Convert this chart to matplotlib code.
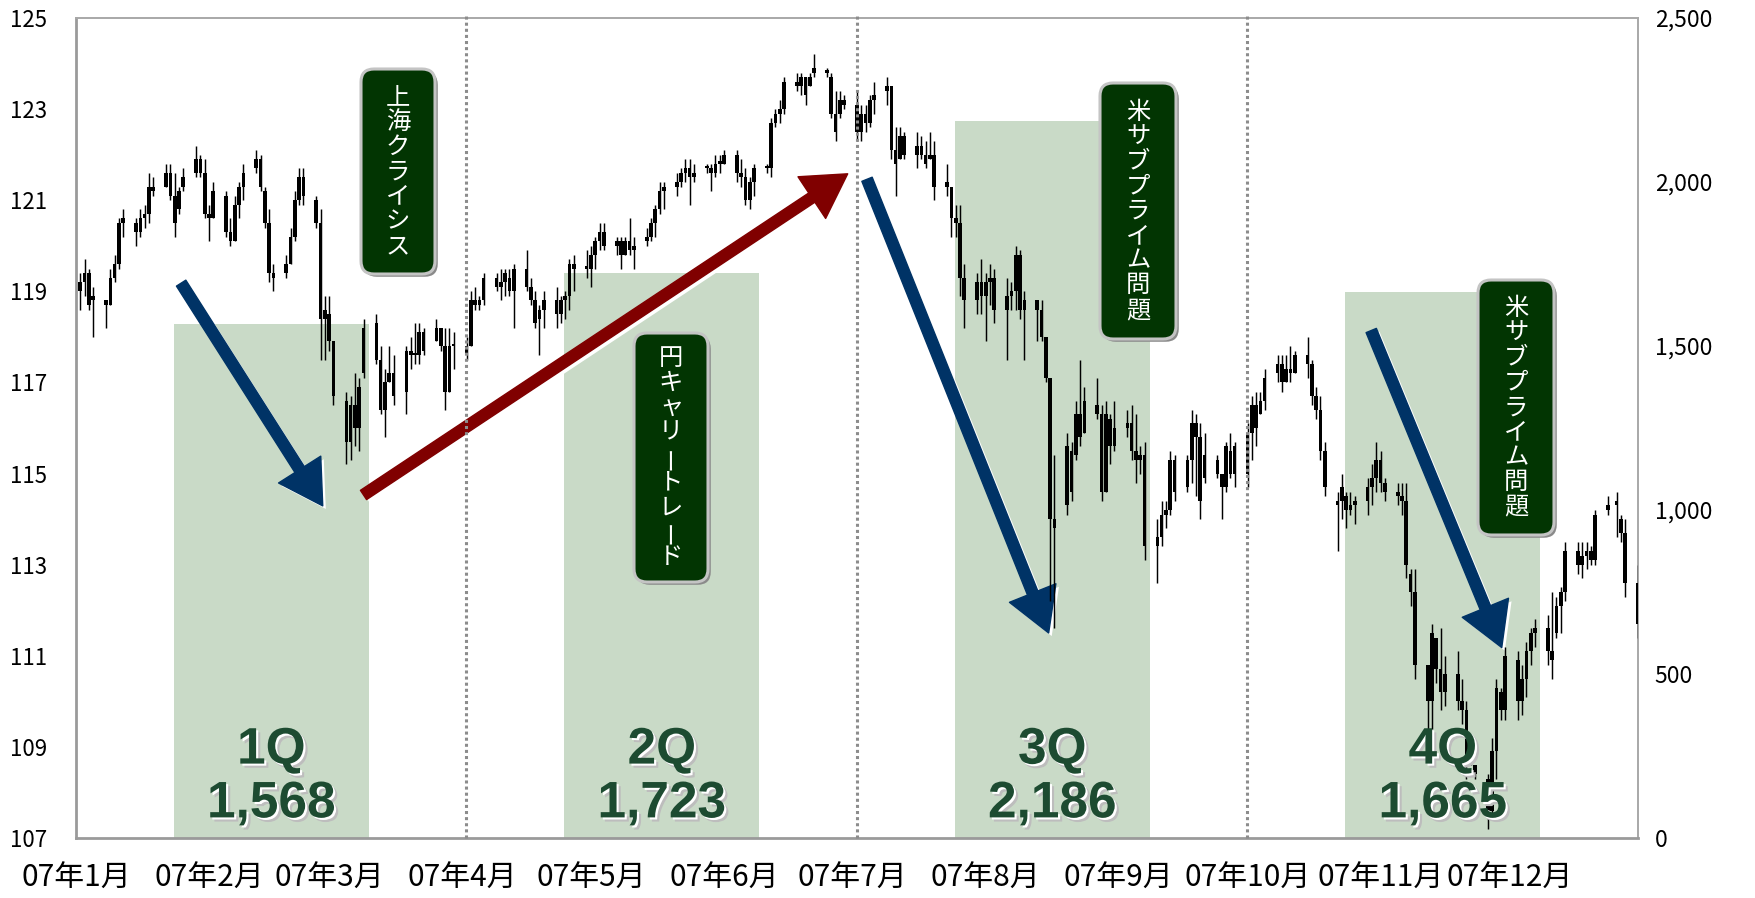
import numpy as np
import pandas as pd
import matplotlib
matplotlib.use("Agg")
import matplotlib.pyplot as plt
import matplotlib.dates as mdates
import matplotlib.transforms as mtransforms
import matplotlib.patheffects as pe
from matplotlib.patches import FancyBboxPatch, FancyArrowPatch, ArrowStyle
from matplotlib.ticker import FuncFormatter

plt.rcParams['font.family'] = ['Noto Sans CJK JP', 'DejaVu Sans']

# ---------------- data ----------------
quarters = ['1Q', '2Q', '3Q', '4Q']
volumes = [1568, 1723, 2186, 1665]

# daily USD/JPY candles (open, high, low, close), trading days per month
jan = [(119.0,119.4,118.6,119.2),(119.2,119.7,118.9,119.4),(119.4,119.5,118.6,118.7),(118.8,119.1,118.0,118.9),
       (118.8,118.8,118.2,118.7),(118.7,119.5,118.7,119.3),(119.3,119.8,119.2,119.6),(119.6,120.6,119.5,120.5),
       (120.5,120.8,120.2,120.6),(120.5,120.6,120.0,120.3),(120.3,120.8,120.2,120.6),(120.6,120.9,120.4,120.7),
       (120.7,121.6,120.5,121.3),(121.3,121.5,121.1,121.2),(121.3,121.8,121.3,121.6),(121.6,121.8,121.0,121.1),
       (121.1,121.6,120.2,120.5),(120.8,121.3,120.7,121.2),(121.3,121.7,121.2,121.5),(121.6,122.2,121.5,121.9),
       (121.9,122.0,121.5,121.6),(121.6,121.9,120.6,120.7)]
feb = [(120.7,120.9,120.1,120.6),(120.6,121.4,120.6,121.2),(121.1,121.2,120.2,120.3),(120.3,120.6,120.0,120.1),
       (120.1,121.1,120.1,120.9),(120.9,121.4,120.6,121.3),(121.3,121.8,121.0,121.6),(121.7,122.1,121.6,121.9),
       (121.9,122.0,121.2,121.3),(121.2,121.3,120.4,120.5),(120.5,120.8,119.2,119.4),(119.4,119.6,119.0,119.3),
       (119.4,119.8,119.3,119.6),(119.6,120.4,119.6,120.2),(120.2,121.2,120.1,121.0),(121.0,121.7,120.9,121.5),
       (121.5,121.7,120.9,121.1),(121.0,121.1,120.4,120.5),(120.5,120.8,117.5,118.4),(118.4,118.9,117.5,118.6)]
mar = [(118.5,118.9,117.7,117.9),(117.9,117.9,116.5,116.7),(116.6,116.8,115.2,115.7),(115.7,116.7,115.3,116.5),
       (116.5,117.2,115.6,116.0),(116.0,117.1,115.5,116.9),(117.2,118.4,117.1,118.2),(118.3,118.5,117.4,117.5),
       (117.5,117.8,116.3,116.4),(116.4,117.3,115.8,117.0),(117.0,117.8,117.0,117.2),(117.2,117.6,116.5,116.7),
       (116.8,117.8,116.3,117.7),(117.7,118.0,117.3,117.6),(117.6,118.3,117.4,117.6),(117.6,118.3,117.4,118.1),
       (118.1,118.2,117.6,117.7),(117.9,118.4,117.9,118.2),(118.2,118.2,117.7,117.8),(117.8,118.2,116.4,116.8),
       (116.8,118.2,116.8,117.8),(117.8,118.1,117.3,117.8)]
apr = [(117.8,118.0,117.5,117.6),(117.8,119.0,117.8,118.8),(118.8,119.1,118.6,118.7),(118.7,118.9,118.6,118.8),
       (118.8,119.4,118.7,119.3),(119.3,119.4,119.0,119.1),(119.1,119.5,118.8,119.2),(119.2,119.5,118.9,119.4),
       (119.3,119.5,118.9,119.0),(119.0,119.6,118.2,119.5),(119.5,119.9,119.0,119.1),(119.1,119.3,118.7,118.8),
       (118.8,119.0,118.2,118.3),(118.4,118.7,117.6,118.6),(118.6,119.0,118.2,118.8),(118.8,119.1,118.2,118.5),
       (118.5,118.9,118.3,118.8),(118.8,119.0,118.4,118.9),(118.9,119.7,118.6,119.6),(119.6,119.8,119.0,119.5),
       (119.5,119.9,119.3,119.5)]
may = [(119.5,120.0,119.1,119.8),(119.8,120.2,119.5,120.1),(120.1,120.5,119.9,120.3),(120.3,120.5,119.9,120.0),
       (120.0,120.2,119.8,120.1),(120.1,120.2,119.5,119.8),(119.8,120.2,119.8,120.1),(120.1,120.6,119.8,119.9),
       (119.9,120.2,119.5,120.0),(120.1,120.4,120.0,120.2),(120.2,120.6,120.1,120.5),(120.5,120.9,120.2,120.8),
       (120.8,121.4,120.7,121.2),(121.2,121.4,120.8,121.3),(121.3,121.6,121.1,121.4),(121.4,121.7,121.3,121.6),
       (121.6,121.9,121.4,121.7),(121.7,121.9,120.9,121.5),(121.5,121.8,121.4,121.6),(121.7,121.8,121.6,121.7),
       (121.7,121.8,121.2,121.6),(121.6,122.0,121.5,121.8),(121.8,122.0,121.6,121.8)]
jun = [(121.8,122.1,121.8,122.0),(122.0,122.1,121.4,121.6),(121.6,121.9,121.3,121.5),(121.5,121.7,120.9,121.0),
       (121.0,121.5,120.8,121.4),(121.4,121.8,121.1,121.7),(121.7,121.8,121.6,121.7),(121.7,122.8,121.5,122.7),
       (122.7,123.0,122.6,122.9),(122.9,123.2,122.7,123.0),(123.0,123.7,122.9,123.6),(123.6,123.8,123.4,123.5),
       (123.5,123.8,123.3,123.7),(123.7,123.7,123.1,123.3),(123.5,123.8,123.5,123.7),(123.8,124.2,123.7,123.9),
       (123.8,123.9,123.7,123.8),(123.7,123.8,122.8,122.9),(122.9,123.4,122.3,122.5),(122.9,123.4,122.8,123.2),
       (123.2,123.3,123.0,123.1)]
jul = [(123.1,123.4,122.3,122.5),(122.5,123.1,122.3,122.9),(122.9,123.1,122.5,122.7),(122.7,123.3,122.6,123.2),
       (123.2,123.6,122.9,123.3),(123.4,123.7,123.1,123.5),(123.5,123.5,121.9,122.1),(122.1,122.6,121.1,121.8),
       (121.9,122.6,121.9,122.4),(122.4,122.5,121.9,122.0),(122.0,122.5,121.7,122.2),(122.2,122.4,121.9,122.0),
       (122.0,122.3,121.7,121.8),(121.9,122.5,121.9,122.0),(122.0,122.3,121.0,121.3),(121.4,121.8,121.1,121.3),
       (121.3,121.3,120.2,120.6),(120.6,120.9,120.2,120.5),(120.5,120.9,118.9,119.3),(119.3,119.6,118.2,118.8),
       (118.8,119.4,118.5,119.2),(119.2,119.7,118.5,118.9)]
aug = [(118.9,119.4,117.9,119.2),(119.2,119.6,118.7,119.3),(119.3,119.5,118.3,118.6),(118.6,119.3,117.5,118.9),
       (118.9,119.2,118.6,119.0),(119.0,120.0,118.6,119.8),(119.8,119.9,118.4,118.6),(118.6,119.0,117.5,118.8),
       (118.8,118.8,117.9,118.6),(118.6,118.8,117.9,118.0),(118.0,118.0,117.0,117.1),(117.1,117.1,112.2,114.0),
       (114.0,115.4,111.6,113.8),(114.3,115.9,114.1,115.6),(115.5,115.7,114.4,114.6),(115.4,116.6,115.3,116.3),
       (116.3,117.5,115.6,115.8),(115.9,116.9,115.9,116.6),(116.5,117.1,116.2,116.3),(116.3,116.5,114.4,114.6),
       (114.6,116.6,114.6,116.3),(116.2,116.3,115.2,115.6),(115.6,116.6,115.5,116.0)]
sep = [(116.0,116.4,115.8,116.1),(116.1,116.5,115.3,115.5),(115.5,116.3,114.8,115.3),(115.3,115.6,115.0,115.4),
       (115.4,115.7,113.1,113.4),(113.4,114.0,112.6,113.6),(113.6,114.4,113.4,114.1),(114.1,114.4,113.8,114.2),
       (114.2,115.5,114.1,115.3),(115.3,115.4,114.4,114.6),(114.7,115.4,114.6,115.3),(115.3,116.4,114.8,116.1),
       (116.1,116.3,114.5,115.8),(115.8,116.1,114.0,114.4),(114.9,115.9,114.8,115.4),(115.3,115.4,114.9,115.0),
       (115.0,115.0,114.0,114.7),(114.7,115.7,114.6,115.6),(115.5,115.9,114.9,115.0),(115.0,115.7,114.7,115.6)]
oct_ = [(115.0,116.1,114.7,115.9),(115.9,116.7,115.3,116.5),(116.5,116.8,115.6,116.0),(116.3,116.8,116.3,116.6),
        (116.6,117.3,116.4,117.1),(117.2,117.6,117.0,117.4),(117.4,117.6,116.8,117.0),(117.0,117.6,117.0,117.3),
        (117.3,117.8,117.0,117.2),(117.2,117.7,117.2,117.6),(117.6,118.0,117.1,117.4),(117.4,117.5,116.5,116.7),
        (116.7,116.9,116.2,116.4),(116.4,116.7,115.3,115.5),(115.5,115.7,114.5,114.7),(114.3,114.6,113.3,114.4),
        (114.4,115.0,114.0,114.7),(114.5,114.6,113.8,114.2),(114.2,114.6,114.1,114.3),(114.3,114.5,113.9,114.4),
        (114.4,114.9,114.1,114.7),(114.7,115.2,114.3,114.9),(114.9,115.7,114.6,115.3)]
nov = [(115.3,115.5,114.6,114.8),(114.8,114.9,114.4,114.6),(114.6,114.8,114.3,114.5),(114.5,114.8,114.1,114.4),
       (114.4,114.8,112.7,113.0),(112.8,112.9,112.1,112.4),(112.4,112.9,110.5,110.8),(110.8,110.8,109.2,110.0),
       (110.0,111.7,109.4,111.5),(111.4,111.4,110.4,110.7),(110.7,111.6,109.8,110.2),(110.2,111.0,109.9,110.6),
       (110.6,111.1,109.8,110.0),(110.0,110.5,109.5,109.8),(109.8,110.0,108.3,108.6),(108.7,109.2,108.6,108.8),
       (108.6,108.6,108.3,108.4),(108.3,108.4,107.2,107.6),(107.6,109.2,107.5,108.9),(108.9,110.5,108.3,110.3),
       (110.2,110.3,109.6,109.8),(109.8,111.2,109.6,111.0)]
dec = [(110.9,111.1,109.6,110.0),(110.0,110.8,109.7,110.5),(110.5,111.3,110.1,111.1),(111.1,111.6,110.8,111.5),
       (111.5,111.8,111.2,111.6),(111.6,111.9,110.8,111.1),(111.1,112.4,110.5,110.9),(111.5,112.3,111.4,112.1),
       (112.1,112.5,111.5,112.4),(112.4,113.5,112.2,113.3),(113.3,113.5,112.8,113.0),(113.0,113.5,112.7,113.2),
       (113.2,113.5,112.9,113.3),(113.3,113.4,113.0,113.1),(113.1,114.2,113.0,114.1),(114.2,114.5,114.1,114.3),
       (114.3,114.6,113.6,114.4),(114.0,114.1,113.5,113.7),(113.7,114.0,112.3,112.6),(112.6,113.0,111.4,111.7)]
months = [jan, feb, mar, apr, may, jun, jul, aug, sep, oct_, nov, dec]
holidays = ['2007-01-01', '2007-12-25']
month_labels = ['07年%d月' % m for m in range(1, 13)]

rows = np.array([r for m in months for r in m])
dates = pd.bdate_range('2007-01-02', '2007-12-31')
dates = dates[~dates.isin(pd.to_datetime(holidays))]
opens, highs, lows, closes = rows[:, 0], rows[:, 1], rows[:, 2], rows[:, 3]

# ---------------- figure ----------------
W, H = 1756, 898
fig = plt.figure(figsize=(W / 100, H / 100), dpi=100)
fig.patch.set_facecolor('white')
L, B, R, T = 76, 838, 1638, 18
pos = [L / W, 1 - B / H, (R - L) / W, (B - T) / H]

ax_bar = fig.add_axes(pos)
ax = fig.add_axes(pos)
ax.patch.set_alpha(0)

# volume bars (right axis)
ax_bar.bar(range(len(volumes)), volumes, width=0.5, color='#c9dac7', zorder=1)
ax_bar.set_xlim(-0.5, len(volumes) - 0.5)
ax_bar.set_ylim(0, 2500)
ax_bar.set_yticks(range(0, 2501, 500))
ax_bar.yaxis.set_major_formatter(FuncFormatter(lambda v, p: f"{int(v):,}"))
ax_bar.yaxis.tick_right()
ax_bar.tick_params(axis='y', length=0, pad=12, labelsize=16.5)
ax_bar.set_xticks([])
for s in ax_bar.spines.values():
    s.set_visible(False)

# price axis
xnum = mdates.date2num(dates)
ax.set_xlim(mdates.date2num(pd.Timestamp('2007-01-02')), mdates.date2num(pd.Timestamp('2007-12-31')))
ax.set_ylim(107, 125)
ax.set_yticks(range(107, 126, 2))
ax.tick_params(axis='y', length=0, pad=21, labelsize=16)
ticks = [pd.Timestamp('2007-01-01')] + [pd.Timestamp(2007, m, 1) for m in range(2, 13)]
ax.set_xticks(mdates.date2num(ticks))
ax.set_xticklabels(month_labels)
ax.tick_params(axis='x', length=0, pad=18, labelsize=21.5)
for side in ['left', 'bottom']:
    ax.spines[side].set_color('#9a9a9a')
    ax.spines[side].set_linewidth(2.0)
for side in ['top', 'right']:
    ax.spines[side].set_color('#a8a8a8')
    ax.spines[side].set_linewidth(1.4)

# arrows (below candles)
shadow = [pe.SimplePatchShadow(offset=(2.2, -2.2), shadow_rgbFace='white', alpha=1.0), pe.Normal()]
arrows = [
    (('2007-01-25 12:00', 119.18), ('2007-02-27 12:00', 114.29), '#003366'),
    (('2007-03-09', 114.53), ('2007-06-29 20:00', 121.58), '#800000'),
    (('2007-07-04 08:00', 121.46), ('2007-08-15 16:00', 111.50), '#003366'),
    (('2007-10-29 20:00', 118.14), ('2007-11-29 06:00', 111.18), '#003366'),
]
for (d0, p0), (d1, p1), col in arrows:
    a = FancyArrowPatch((mdates.date2num(pd.Timestamp(d0)), p0), (mdates.date2num(pd.Timestamp(d1)), p1),
                        arrowstyle=ArrowStyle.Simple(head_length=3.1, head_width=3.6, tail_width=0.8),
                        mutation_scale=10, color=col, shrinkA=0, shrinkB=0, zorder=3,
                        transform=ax.transData)
    a.set_path_effects(shadow)
    ax.add_patch(a)

# candles
ax.vlines(xnum, lows, highs, color='black', linewidth=1.05, zorder=4)
body_lo = np.minimum(opens, closes)
body_h = np.maximum(np.abs(closes - opens), 0.05)
ax.bar(xnum, body_h, bottom=body_lo, width=0.85, color='black', linewidth=0, zorder=4)

# quarter separators
blend = mtransforms.blended_transform_factory(ax_bar.transData, ax.transAxes)
for b in [0.5, 1.5, 2.5]:
    ax.plot([b, b], [0, 1.006], transform=blend, color='#8c8c8c', linewidth=2.2,
            linestyle=(0, (1, 1)), zorder=5, clip_on=False)

# quarter labels
for i, (q, v) in enumerate(zip(quarters, volumes)):
    for txt, yv in [(q, 268), (f"{v:,}", 104)]:
        t = ax.text(i, yv, txt, transform=ax_bar.transData, ha='center', va='center',
                    fontsize=37, fontweight='bold', color='#1d4b31',
                    family=['Liberation Sans', 'DejaVu Sans'], zorder=6)
        t.set_path_effects([pe.SimplePatchShadow(offset=(3, -3), shadow_rgbFace='#bdbdbd', alpha=1.0),
                            pe.SimplePatchShadow(offset=(1.5, -1.5), shadow_rgbFace='white', alpha=1.0),
                            pe.Normal()])

# event boxes (vertical text)
inch = fig.dpi_scale_trans
boxes = [
    ('上海クライシス', 361, 69, 74, 205),
    ('円キャリートレード', 634, 333, 74, 249),
    ('米サブプライム問題', 1100, 83, 76, 256),
    ('米サブプライム問題', 1478, 280, 76, 255),
]
pitch = 24.8
for text, x0, y0, w, h in boxes:
    bx = FancyBboxPatch((x0 / 100, (H - y0 - h) / 100), w / 100, h / 100,
                        boxstyle='round,pad=0,rounding_size=0.13', transform=inch,
                        facecolor='#023502', edgecolor='#c4c4c4', linewidth=2.2, zorder=7)
    bx.set_path_effects([pe.SimplePatchShadow(offset=(2, -2), shadow_rgbFace='#8a8a8a', alpha=1.0), pe.Normal()])
    ax.add_patch(bx)
    cx = x0 + w / 2
    cy = y0 + h / 2
    n = len(text)
    for k, ch in enumerate(text):
        yy = cy + (k - (n - 1) / 2) * pitch
        rot = 90 if ch == 'ー' else 0
        ax.text(cx / 100, (H - yy) / 100, ch, transform=inch, ha='center', va='center',
                rotation=rot, fontsize=17.5, color='white', zorder=8)

fig.savefig('out.png', dpi=100, facecolor='white')
